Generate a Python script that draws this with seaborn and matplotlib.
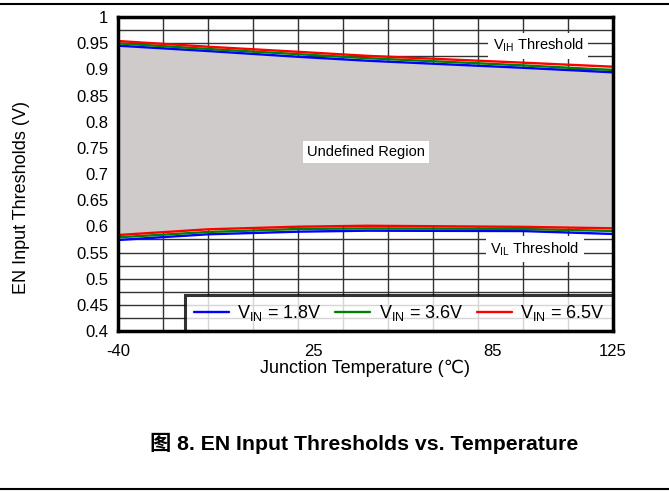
import numpy as np
import pandas as pd
import matplotlib
matplotlib.use("Agg")
import matplotlib.pyplot as plt
from matplotlib.lines import Line2D
import seaborn as sns

# ---- data ----
temps = [-40, -10, 20, 43, 95, 125]
vih_18 = [0.9452, 0.9350, 0.9240, 0.9165, 0.9030, 0.8943]
vih_36 = [0.9497, 0.9389, 0.9290, 0.9213, 0.9076, 0.8987]
vih_65 = [0.9541, 0.9432, 0.9335, 0.9258, 0.9127, 0.9050]
vil_18 = [0.5739, 0.5848, 0.5898, 0.5917, 0.5910, 0.5854]
vil_36 = [0.5790, 0.5892, 0.5949, 0.5960, 0.5950, 0.5911]
vil_65 = [0.5834, 0.5943, 0.5993, 0.6011, 0.5990, 0.5962]
series_labels = [r"V$_{\mathregular{IN}}$ = 1.8V", r"V$_{\mathregular{IN}}$ = 3.6V", r"V$_{\mathregular{IN}}$ = 6.5V"]
colors = ["#0000FF", "#008000", "#FF0000"]
xtick_labels = [-40, 25, 85, 125]
ytick_vals = [0.4, 0.45, 0.5, 0.55, 0.6, 0.65, 0.7, 0.75, 0.8, 0.85, 0.9, 0.95, 1.0]
ytick_text = ["0.4", "0.45", "0.5", "0.55", "0.6", "0.65", "0.7", "0.75", "0.8", "0.85", "0.9", "0.95", "1"]

rows = []
for lab, vih, vil in zip(series_labels, [vih_18, vih_36, vih_65], [vil_18, vil_36, vil_65]):
    for t, a, b in zip(temps, vih, vil):
        rows.append({"T": t, "V": a, "series": lab, "kind": "VIH"})
        rows.append({"T": t, "V": b, "series": lab, "kind": "VIL"})
df = pd.DataFrame(rows)

sns.set_theme(style="white")
plt.rcParams["font.family"] = ["Liberation Sans", "DejaVu Sans", "Noto Sans CJK SC"]
plt.rcParams["mathtext.fontset"] = "custom"
plt.rcParams["mathtext.rm"] = "Liberation Sans"
plt.rcParams["mathtext.it"] = "Liberation Sans"
for k in ["text.color", "axes.labelcolor", "xtick.color", "ytick.color"]:
    plt.rcParams[k] = "black"

fig = plt.figure(figsize=(6.69, 4.91), dpi=100)
ax = fig.add_axes([118/669, 1-331/491, (613-118)/669, (331-17)/491])

# grid
ax.set_axisbelow(True)
ax.set_xlim(-40, 125)
ax.set_ylim(0.4, 1.0)
ax.set_xticks(xtick_labels)
ax.set_xticklabels([str(v) for v in xtick_labels])
ax.set_xticks(np.arange(-40, 126, 15), minor=True)
ax.set_yticks(ytick_vals)
ax.set_yticklabels(ytick_text)
ax.set_yticks(np.arange(0.4, 1.001, 0.025), minor=True)
ax.grid(False)
ax.grid(True, which="minor", axis="x", color="#333333", linewidth=1.0)
ax.grid(True, which="both", axis="y", color="#333333", linewidth=1.0)
ax.tick_params(which="both", length=0, labelsize=12, colors="black")
ax.tick_params(axis="x", pad=9)
ax.tick_params(axis="y", pad=7)

# undefined region
ax.fill_between(temps, vil_65, vih_18, color="#CFCBCB", zorder=1.5, linewidth=0)

for kind in ["VIH", "VIL"]:
    sub = df[df["kind"] == kind]
    sns.lineplot(data=sub, x="T", y="V", hue="series", palette=colors,
                 hue_order=series_labels, linewidth=1.7, ax=ax, zorder=3,
                 legend=(kind == "VIH"))

bbox = dict(facecolor="white", edgecolor="none", pad=3)
ax.text(100, 0.945, r"V$_{\mathregular{IH}}$ Threshold", fontsize=10.5, ha="center", va="center", bbox=bbox, zorder=4)
ax.text(99, 0.5567, r"V$_{\mathregular{IL}}$ Threshold", fontsize=10.5, ha="center", va="center", bbox=bbox, zorder=4)
ax.text(42.7, 0.742, "Undefined Region", fontsize=10.5, ha="center", va="center", bbox=bbox, zorder=4)

leg = ax.legend(loc="lower right", ncol=3, frameon=True, fancybox=False,
                borderaxespad=0, fontsize=13, handlelength=1.95, columnspacing=0.75,
                handletextpad=0.45, borderpad=0.45)
leg.get_frame().set_edgecolor("black")
leg.get_frame().set_linewidth(2.2)
leg.set_zorder(5)
for h in leg.get_lines():
    h.set_linewidth(1.7)

for s in ax.spines.values():
    s.set_visible(True)
    s.set_color("black")
    s.set_linewidth(2.5)
    s.set_zorder(6)

ax.set_xlabel("Junction Temperature (℃)", fontsize=13, labelpad=0.5)
ax.set_ylabel("EN Input Thresholds (V)", fontsize=13)
ax.yaxis.set_label_coords((30-118)/495, (331-198)/314)

fig.text(364/669, 1-443/491, "图 8. EN Input Thresholds vs. Temperature", fontsize=15.3,
         fontweight="bold", ha="center", va="center", color="black",
         family=["Liberation Sans", "Noto Sans CJK SC"])

fig.add_artist(Line2D([0, 1], [1-4/491, 1-4/491], color="black", linewidth=1.5))
fig.add_artist(Line2D([0, 1], [1-489/491, 1-489/491], color="black", linewidth=1.5))

fig.savefig("out.png", dpi=100)
